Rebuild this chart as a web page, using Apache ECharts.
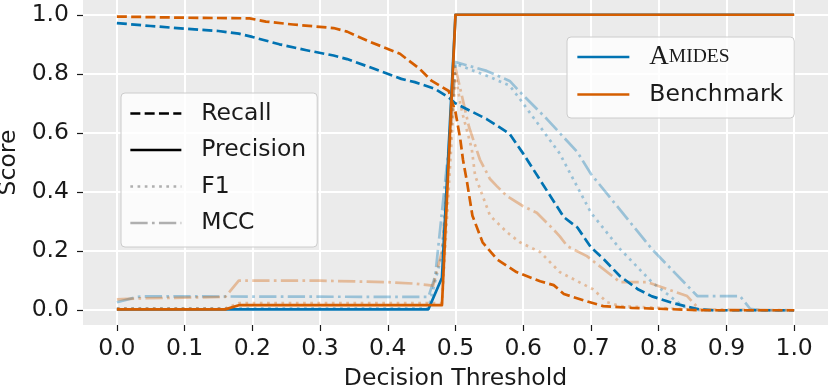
<!DOCTYPE html>
<html><head><meta charset="utf-8">
<script src="https://cdn.jsdelivr.net/npm/echarts@6/dist/echarts.min.js"></script>
<style>html,body{margin:0;padding:0;background:#fff}#c{width:830px;height:389px}</style>
</head><body><div id="c"></div>
<script>
// tick labels
const xTicks = [0, 0.1, 0.2, 0.3, 0.4, 0.5, 0.6, 0.7, 0.8, 0.9, 1.0];
const yTicks = [0, 0.2, 0.4, 0.6, 0.8, 1.0];
const modelNames = ['Amides', 'Benchmark'];
const metricNames = ['Recall', 'Precision', 'F1', 'MCC'];

// Amides [threshold, score]
const amidesRecall = [[0,0.972],[0.05,0.962],[0.1,0.953],[0.15,0.945],[0.18,0.936],[0.2,0.925],[0.24,0.90],[0.28,0.88],[0.32,0.862],[0.34,0.85],[0.38,0.817],[0.42,0.783],[0.44,0.772],[0.47,0.749],[0.49,0.72],[0.5,0.70],[0.546,0.647],[0.58,0.597],[0.6,0.53],[0.66,0.315],[0.68,0.28],[0.7,0.213],[0.72,0.17],[0.743,0.115],[0.77,0.07],[0.79,0.047],[0.82,0.025],[0.84,0.013],[0.86,0.003],[0.88,0],[1.0,0]];
const amidesPrecision = [[0,0.003],[0.46,0.003],[0.48,0.11],[0.5,1.0],[1.0,1.0]];
const amidesF1 = [[0,0.006],[0.46,0.006],[0.48,0.19],[0.5,0.834],[0.55,0.79],[0.58,0.76],[0.595,0.715],[0.654,0.53],[0.70,0.33],[0.743,0.207],[0.79,0.095],[0.836,0.013],[0.86,0],[1.0,0]];
const amidesMCC = [[0,0.027],[0.03,0.045],[0.04,0.047],[0.46,0.045],[0.47,0.115],[0.49,0.55],[0.5,0.84],[0.546,0.81],[0.58,0.776],[0.595,0.739],[0.635,0.647],[0.68,0.535],[0.70,0.461],[0.79,0.207],[0.857,0.048],[0.92,0.048],[0.935,0.005],[0.95,0],[1.0,0]];

// Benchmark [threshold, score]
const benchRecall = [[0,0.994],[0.1,0.99],[0.196,0.988],[0.22,0.977],[0.26,0.967],[0.32,0.955],[0.34,0.943],[0.37,0.912],[0.418,0.868],[0.447,0.817],[0.465,0.776],[0.49,0.742],[0.5,0.67],[0.507,0.58],[0.511,0.51],[0.517,0.434],[0.525,0.32],[0.54,0.23],[0.561,0.173],[0.59,0.129],[0.625,0.098],[0.645,0.085],[0.66,0.055],[0.694,0.03],[0.718,0.014],[0.76,0.008],[0.8,0.005],[0.86,0],[1.0,0]];
const benchPrecision = [[0,0.003],[0.16,0.003],[0.18,0.017],[0.48,0.017],[0.5,1.0],[1.0,1.0]];
const benchF1 = [[0,0.006],[0.16,0.006],[0.18,0.024],[0.48,0.024],[0.5,0.80],[0.507,0.70],[0.511,0.66],[0.524,0.546],[0.529,0.455],[0.551,0.32],[0.576,0.264],[0.595,0.23],[0.625,0.197],[0.654,0.129],[0.703,0.071],[0.724,0.027],[0.743,0.014],[0.8,0.008],[0.86,0],[1.0,0]];
const benchMCC = [[0,0.037],[0.03,0.04],[0.16,0.045],[0.18,0.10],[0.3,0.10],[0.4,0.095],[0.44,0.09],[0.467,0.083],[0.48,0.2],[0.5,0.82],[0.52,0.62],[0.536,0.51],[0.551,0.444],[0.561,0.42],[0.576,0.386],[0.60,0.352],[0.62,0.33],[0.644,0.275],[0.654,0.25],[0.665,0.217],[0.694,0.183],[0.743,0.095],[0.783,0.095],[0.842,0.048],[0.86,0.003],[1.0,0]];

const BLUE = '#0173B2', ORANGE = '#D55E00';
const DASH = [10, 4.3], DOT = [2.7, 4.5], DASHDOT = [17.3, 4.3, 2.7, 4.3];
const LW = 2.7;
const FONT = 'DejaVu Sans';
const TXT = '#1a1a1a';

function mk(name, data, color, type, opacity, z) {
  return { type: 'line', name, data, symbol: 'none', showSymbol: false, silent: true,
    lineStyle: { color, width: LW, type, opacity, cap: 'butt', join: 'round' },
    itemStyle: { color }, z, animation: false };
}
function dummy(name, color, type) {
  return { type: 'line', name, data: [], symbol: 'none', color,
    lineStyle: { color, width: LW, type, cap: 'butt' }, itemStyle: { color } };
}

const series = [
  mk('Amides F1', amidesF1, BLUE, DOT, 0.35, 2),
  mk('Amides MCC', amidesMCC, BLUE, DASHDOT, 0.35, 2),
  mk('Benchmark F1', benchF1, ORANGE, DOT, 0.35, 2),
  mk('Benchmark MCC', benchMCC, ORANGE, DASHDOT, 0.35, 2),
  mk('Amides Recall', amidesRecall, BLUE, DASH, 1, 3),
  mk('Benchmark Recall', benchRecall, ORANGE, DASH, 1, 3),
  mk('Amides Precision', amidesPrecision, BLUE, 'solid', 1, 4),
  mk('Benchmark Precision', benchPrecision, ORANGE, 'solid', 1, 5),
  dummy('Recall', '#000', DASH),
  dummy('Precision', '#000', 'solid'),
  dummy('F1', 'rgba(0,0,0,0.3)', DOT),
  dummy('MCC', 'rgba(0,0,0,0.3)', DASHDOT),
  dummy('Amides', BLUE, 'solid'),
  dummy('Benchmark', ORANGE, 'solid')
];

const legendCommon = {
  orient: 'vertical', selectedMode: false, itemHeight: 14,
  backgroundColor: 'rgba(255,255,255,0.8)', borderColor: '#CCCCCC', borderWidth: 1, borderRadius: 4,
  itemStyle: { opacity: 0 }, lineStyle: { width: LW }, z: 10,
  textStyle: { fontFamily: FONT, fontSize: 23.5, color: TXT,
    rich: {
      sp: { width: 15, fontSize: 23.5, lineHeight: 23 },
      t: { fontFamily: FONT, fontSize: 23.5, lineHeight: 23, color: TXT },
      a: { fontFamily: 'Liberation Serif', fontSize: 27, lineHeight: 23, color: TXT },
      b: { fontFamily: 'Liberation Serif', fontSize: 19.5, lineHeight: 23, color: TXT }
    } }
};

const option = {
  animation: false,
  backgroundColor: '#fff',
  grid: { left: 83, right: 2, top: 0, bottom: 64, show: true, backgroundColor: '#EBEBEB', borderWidth: 0,
    containLabel: false, outerBoundsMode: 'none' },
  xAxis: {
    type: 'value', min: -0.05, max: 1.05,
    name: 'Decision Threshold', nameLocation: 'middle', nameGap: 42,
    nameTextStyle: { fontFamily: FONT, fontSize: 23.5, color: TXT },
    axisLine: { show: false, onZero: false },
    axisTick: { show: true, length: 6, lineStyle: { color: TXT, width: 1.2 }, customValues: xTicks },
    axisLabel: { customValues: xTicks, formatter: v => v.toFixed(1), fontFamily: FONT, fontSize: 23.5, color: TXT, margin: 12 },
    splitLine: { show: true, lineStyle: { color: '#fff', width: 2 } }
  },
  yAxis: {
    type: 'value', min: -0.05, max: 1.05,
    name: 'Score', nameLocation: 'middle', nameGap: 60, nameRotate: 90,
    nameTextStyle: { fontFamily: FONT, fontSize: 23.5, color: TXT },
    axisLine: { show: false, onZero: false },
    axisTick: { show: true, length: 6, lineStyle: { color: TXT, width: 1.2 }, customValues: yTicks },
    axisLabel: { customValues: yTicks, formatter: v => v.toFixed(1), fontFamily: FONT, fontSize: 23.5, color: TXT, margin: 14 },
    splitLine: { show: true, lineStyle: { color: '#fff', width: 2 } }
  },
  legend: [
    Object.assign({}, legendCommon, {
      data: metricNames, left: 121, top: 93, itemWidth: 51, itemGap: 12.5,
      padding: [8.5, 11, 12, 8],
      formatter: n => '{sp| }{t|' + n + '}'
    }),
    Object.assign({}, legendCommon, {
      data: modelNames, left: 567, top: 37, itemWidth: 52, itemGap: 12,
      padding: [6.5, 11, 11.5, 9],
      formatter: n => n === 'Amides' ? '{sp| }{a|A}{b|MIDES}' : '{sp| }{t|' + n + '}'
    })
  ],
  series
};
const chart = echarts.init(document.getElementById('c'), null, { renderer: 'canvas' });
chart.setOption(option);
</script></body></html>
